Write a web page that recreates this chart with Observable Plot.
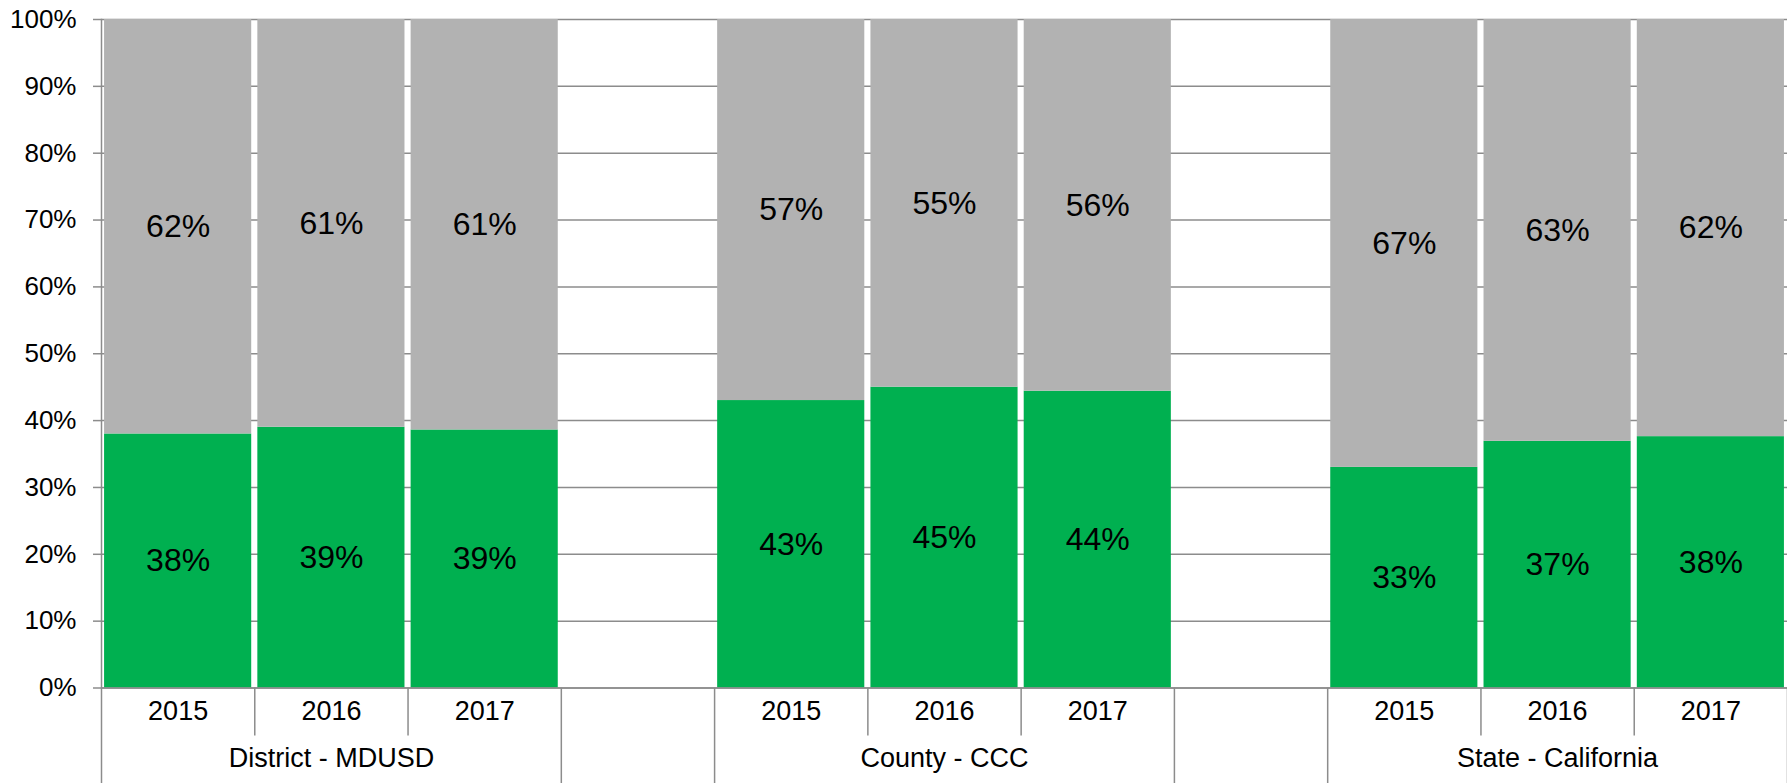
<!DOCTYPE html>
<html><head><meta charset="utf-8">
<script src="https://cdn.jsdelivr.net/npm/d3@7"></script>
<script src="https://cdn.jsdelivr.net/npm/@observablehq/plot@0.6"></script>
<style>
html,body{margin:0;padding:0;background:#fff;}
svg{display:block}
</style></head><body>
<div id="chart"></div>
<script>
// ---- data ----
const groups = ["District - MDUSD", "County - CCC", "State - California"];
const years = ["2015", "2016", "2017"];
const districtGreen = [38.0, 39.0, 38.6];
const countyGreen = [43.0, 45.0, 44.4];
const stateGreen = [33.0, 36.9, 37.6];
const yTicks = [0, 10, 20, 30, 40, 50, 60, 70, 80, 90, 100];
const yTickLabels = ["0%", "10%", "20%", "30%", "40%", "50%", "60%", "70%", "80%", "90%", "100%"];

// ---- layout / style ----
const W = 1787, H = 783;
const mL = 101, mR = 0, mT = 19, mB = 95.5;
const GREEN = "#00b050", GRAY = "#b2b2b2", LINE = "#8c8c8c";
const padIn = 0.04, padOut = 0.02;

const greenByGroup = [districtGreen, countyGreen, stateGreen];
const rows = [];
groups.forEach((g, gi) => years.forEach((yr, yi) =>
  rows.push({group: g, year: yr, key: g + "|" + yr, green: greenByGroup[gi][yi]})));
const domain = [];
groups.forEach((g, gi) => {
  if (gi > 0) domain.push("gap" + gi);
  years.forEach(yr => domain.push(g + "|" + yr));
});
const step = (W - mL - mR) / (domain.length - padIn + 2 * padOut);

const firstKeys = groups.map(g => g + "|" + years[0]);
const lastKeys = groups.map(g => g + "|" + years[years.length - 1]);
const innerKeys = rows.filter(r => r.year !== years[0]).map(r => r.key);
const midKeys = groups.map(g => g + "|" + years[1]);

const chart = Plot.plot({
  width: W, height: H,
  marginLeft: mL, marginRight: mR, marginTop: mT, marginBottom: mB,
  style: {fontFamily: "'Liberation Sans', Arial, sans-serif", color: "black", background: "white"},
  x: {type: "band", domain, paddingInner: padIn, paddingOuter: padOut, round: false, axis: null},
  y: {domain: [0, 100], axis: null, label: null},
  marks: [
    Plot.gridY(yTicks, {stroke: LINE, strokeOpacity: 1, strokeWidth: 1.5}),
    Plot.barY(rows, {x: "key", y1: () => 0, y2: "green", fill: GREEN}),
    Plot.barY(rows, {x: "key", y1: "green", y2: () => 100, fill: GRAY}),
    Plot.axisY(yTicks, {
      tickSize: 8, tickPadding: 17, fontSize: 26,
      tickFormat: d => yTickLabels[yTicks.indexOf(d)],
      stroke: LINE, strokeWidth: 1.5, fill: "black", label: null
    }),
    Plot.frame({anchor: "left", stroke: LINE, strokeWidth: 1.5}),
    Plot.ruleY([0], {stroke: LINE, strokeWidth: 1.5}),
    // bottom table separators
    Plot.ruleX(firstKeys, {x: d => d, dx: -step / 2, insetTop: H - mT - mB, insetBottom: -mB, stroke: LINE, strokeWidth: 1.5}),
    Plot.ruleX(lastKeys, {x: d => d, dx: step / 2, insetTop: H - mT - mB, insetBottom: -mB, stroke: LINE, strokeWidth: 1.5}),
    Plot.ruleX(innerKeys, {x: d => d, dx: -step / 2, insetTop: H - mT - mB, insetBottom: -48, stroke: LINE, strokeWidth: 1.5}),
    // bottom table labels
    Plot.text(rows, {x: "key", text: "year", frameAnchor: "bottom", dy: 31.5, fontSize: 27, fill: "black"}),
    Plot.text(groups, {x: (g, i) => midKeys[i], text: d => d, frameAnchor: "bottom", dy: 78.5, fontSize: 27, fill: "black"}),
    // data labels
    Plot.text(rows, {x: "key", y: d => d.green / 2, text: d => Math.round(d.green) + "%", fontSize: 32, fill: "black"}),
    Plot.text(rows, {x: "key", y: d => (d.green + 100) / 2, text: d => Math.round(100 - d.green) + "%", fontSize: 32, fill: "black"})
  ]
});
document.getElementById("chart").appendChild(chart);
</script>
</body></html>
